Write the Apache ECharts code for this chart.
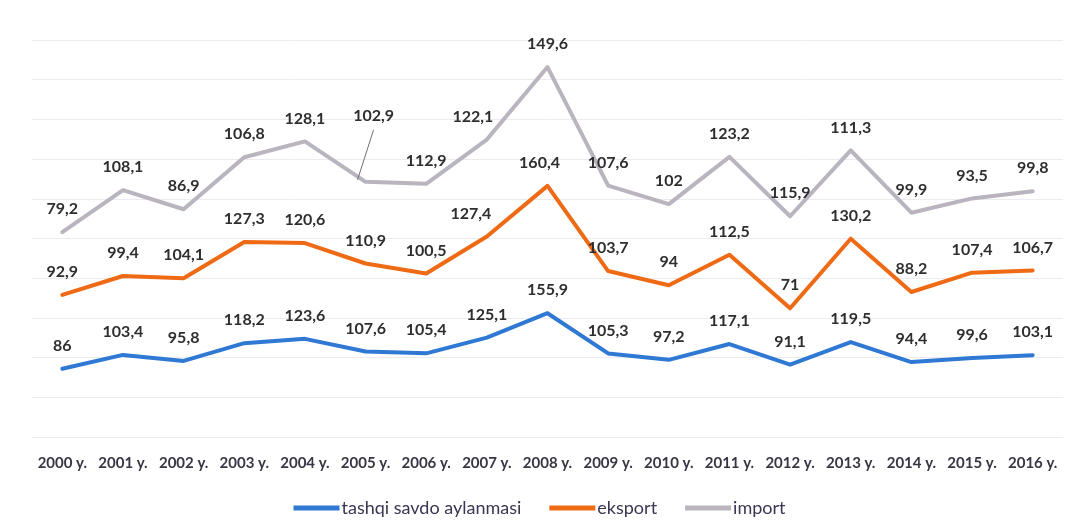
<!DOCTYPE html>
<html>
<head>
<meta charset="utf-8">
<script src="https://cdn.jsdelivr.net/npm/echarts@6/dist/echarts.min.js"></script>
<style>
  html, body { margin: 0; padding: 0; background: #ffffff; }
  #chart { width: 1079px; height: 532px; }
</style>
</head>
<body>
<div id="chart"></div>
<script>
// Years on the category axis
const years = ['2000 y.', '2001 y.', '2002 y.', '2003 y.', '2004 y.', '2005 y.', '2006 y.', '2007 y.', '2008 y.',
  '2009 y.', '2010 y.', '2011 y.', '2012 y.', '2013 y.', '2014 y.', '2015 y.', '2016 y.'];

// Growth indices, stacked on top of each other
const tashqi = [86, 103.4, 95.8, 118.2, 123.6, 107.6, 105.4, 125.1, 155.9, 105.3, 97.2, 117.1, 91.1, 119.5, 94.4, 99.6, 103.1];
const eksport = [92.9, 99.4, 104.1, 127.3, 120.6, 110.9, 100.5, 127.4, 160.4, 103.7, 94, 112.5, 71, 130.2, 88.2, 107.4, 106.7];
const importVals = [79.2, 108.1, 86.9, 106.8, 128.1, 102.9, 112.9, 122.1, 149.6, 107.6, 102, 123.2, 115.9, 111.3, 99.9, 93.5, 99.8];

const seriesNames = ['tashqi savdo aylanmasi', 'eksport', 'import'];
const colors = ['#2f78d4', '#ee6a14', '#b9b4bd'];

const fontFamily = 'Lato, "Open Sans", sans-serif';
const fmt = v => String(v).replace('.', ',');

// Label shifts for crowded points: [seriesIndex, dataIndex] -> [dx, dy]
const labelShifts = {
  '2-5': [8, -43],
  '2-7': [-14, 0],
  '1-7': [-16, 0],
  '1-8': [-8, 0]
};
// The raised 2005 import label gets a guide line back to its point
const guideIndex = 5;

const labelStyle = {
  show: true,
  position: 'top',
  distance: 15,
  fontFamily: fontFamily,
  fontSize: 16,
  fontWeight: 'bold',
  color: '#2e2e2e',
  formatter: p => fmt(p.value)
};

const chart = echarts.init(document.getElementById('chart'), null, { renderer: 'canvas' });

function layoutLabel(p) {
  const s = labelShifts[p.seriesIndex + '-' + p.dataIndex];
  return s ? { dx: s[0], dy: s[1], hideOverlap: false } : { hideOverlap: false };
}

function lineSeries(name, data, color) {
  return {
    name: name,
    type: 'line',
    stack: 'total',
    data: data,
    symbol: 'circle',
    symbolSize: 0,
    showSymbol: true,
    smooth: false,
    lineStyle: { color: color, width: 4, cap: 'round', join: 'round' },
    itemStyle: { color: color },
    label: labelStyle,
    labelLayout: layoutLabel,
    emphasis: { disabled: true },
    z: 3
  };
}

chart.setOption({
  backgroundColor: '#ffffff',
  animation: false,
  grid: { left: 32, right: 16, top: 40, bottom: 95 },
  xAxis: {
    type: 'category',
    data: years,
    boundaryGap: true,
    axisLine: { show: false },
    axisTick: { show: false },
    axisLabel: {
      margin: 19,
      fontFamily: fontFamily,
      fontSize: 15,
      fontWeight: 'bold',
      color: '#3a3545',
      interval: 0
    }
  },
  yAxis: {
    type: 'value',
    min: 0,
    max: 500,
    interval: 50,
    axisLabel: { show: false },
    axisLine: { show: false },
    axisTick: { show: false },
    splitLine: { show: true, lineStyle: { color: '#ebebf0', width: 1 } }
  },
  legend: {
    bottom: 10,
    left: 'center',
    icon: 'rect',
    itemWidth: 46,
    itemHeight: 5,
    itemGap: 28,
    textStyle: {
      fontFamily: fontFamily,
      fontSize: 18,
      color: '#3a3550',
      padding: [0, 0, 0, -3]
    },
    data: seriesNames
  },
  series: [
    lineSeries(seriesNames[0], tashqi, colors[0]),
    lineSeries(seriesNames[1], eksport, colors[1]),
    lineSeries(seriesNames[2], importVals, colors[2])
  ]
});

// Guide line from the stacked import point up to its label
const stackTop = tashqi[guideIndex] + eksport[guideIndex] + importVals[guideIndex];
const pt = chart.convertToPixel({ seriesIndex: 2 }, [guideIndex, stackTop]);
chart.setOption({
  graphic: [{
    type: 'line',
    shape: { x1: pt[0] - 8, y1: pt[1] - 2, x2: pt[0] + 8, y2: pt[1] - 52 },
    style: { stroke: '#6f6f6f', lineWidth: 1 },
    z: 10
  }]
});
</script>
</body>
</html>
